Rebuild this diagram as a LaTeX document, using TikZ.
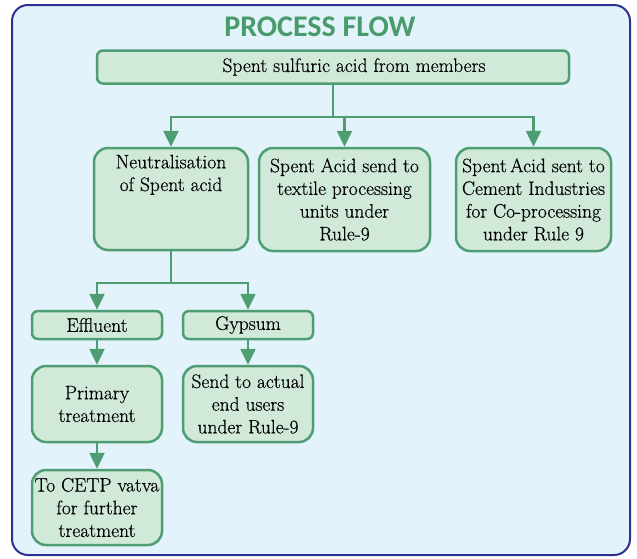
\documentclass[tikz,border=0pt]{standalone}
\usepackage{fontspec}
\newfontfamily\boxfont{Latin Modern Roman}[FakeBold=0.4]
\newfontfamily\titlefont{Carlito}
\usetikzlibrary{arrows.meta}
\definecolor{bgblue}{HTML}{E2F3FB}
\definecolor{framenavy}{HTML}{2E3192}
\definecolor{boxfill}{HTML}{D0E9D8}
\definecolor{boxline}{HTML}{4F9E73}
\definecolor{titlegreen}{HTML}{4A9B6C}
\tikzset{
  flowbox/.style={draw=boxline, fill=boxfill, line width=2.5pt, inner sep=0pt,
    align=center, text=black, font=\boxfont\fontsize{19.5}{22.7}\selectfont},
  bigbox/.style={flowbox, rounded corners=14pt},
  flatbox/.style={flowbox, rounded corners=6pt},
  flowarrow/.style={draw=boxline, line width=2.5pt, -{Triangle[width=15pt,length=16pt]}},
  flowline/.style={draw=boxline, line width=2.5pt}
}
\begin{document}
\begin{tikzpicture}[x=1pt, y=-1pt]
  \useasboundingbox (0,0) rectangle (637,558);
  % --- outer frame ---
  \draw[framenavy, line width=2pt, rounded corners=16pt, fill=bgblue] (12,5) rectangle (630,555);
  % title
  \node[text=titlegreen, font=\titlefont\bfseries\fontsize{30}{36}\selectfont] (title) at (320,27) {PROCESS FLOW};
  % source
  \node[flatbox, minimum width=472pt, minimum height=33pt] (source) at (333,67) {\hspace*{42pt}Spent sulfuric acid from members};
  % first level
  \node[bigbox, minimum width=154pt, minimum height=102pt] (neutral) at (171,199) {Neutralisation\\of Spent acid\\\strut\\\strut};
  \node[bigbox, minimum width=171pt, minimum height=103pt] (textile) at (344.5,199.5) {Spent Acid send to\\textile processing\\units under\\Rule-9};
  \node[bigbox, minimum width=155pt, minimum height=103pt] (cement) at (533.5,199.5) {Spent\,Acid sent to\\Cement Industries\\for Co-processing\\under Rule 9};
  % second level
  \node[flatbox, minimum width=130pt, minimum height=28pt] (effluent) at (97,325) {Effluent};
  \node[flatbox, minimum width=130pt, minimum height=28pt] (gypsum) at (248,325) {Gypsum};
  \node[bigbox, minimum width=130pt, minimum height=76pt] (primary) at (97,404) {Primary\\treatment};
  \node[bigbox, minimum width=130pt, minimum height=76pt] (endusers) at (248,404) {Send to actual\\end users\\under Rule-9};
  \node[bigbox, minimum width=130pt, minimum height=75pt] (cetp) at (97,507.5) {To CETP vatva\\for further\\treatment};
  % split points
  \coordinate (split1) at (333,117);
  \coordinate (split2) at (171,283);
  % connectors
  \draw[flowline] (source) -- (split1);
  \draw[flowarrow] (split1) -| (neutral);
  \draw[flowarrow] (split1) -| (textile);
  \draw[flowarrow] (split1) -| (cement);
  \draw[flowline] (neutral) -- (split2);
  \draw[flowarrow] (split2) -| (effluent);
  \draw[flowarrow] (split2) -| (gypsum);
  \draw[flowarrow] (effluent) -- (primary);
  \draw[flowarrow] (primary) -- (cetp);
  \draw[flowarrow] (gypsum) -- (endusers);
\end{tikzpicture}
\end{document}
